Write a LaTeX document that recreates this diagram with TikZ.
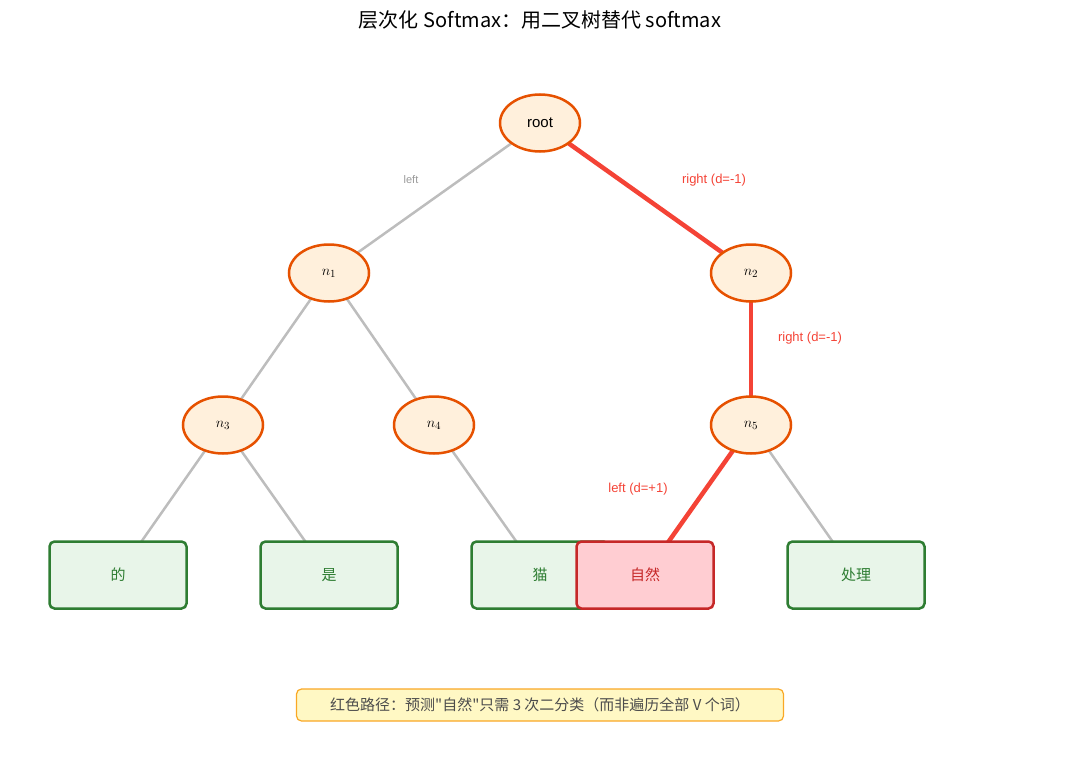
\documentclass[tikz,border=0pt]{standalone}
\usepackage{fontspec}
\setmainfont{Liberation Sans}
\newfontfamily\cjk{Noto Sans CJK SC}
\usetikzlibrary{shapes.geometric}
\definecolor{ofill}{HTML}{FFF0DC}
\definecolor{oline}{HTML}{E65100}
\definecolor{gfill}{HTML}{E8F5E9}
\definecolor{gline}{HTML}{2E7D32}
\definecolor{redp}{HTML}{F44336}
\definecolor{rfill}{HTML}{FFCDD2}
\definecolor{rline}{HTML}{C62828}
\definecolor{gray1}{HTML}{BDBDBD}
\definecolor{nfill}{HTML}{FFF8C4}
\definecolor{nline}{HTML}{F9A825}
\tikzset{
 inner/.style={ellipse,draw=oline,fill=ofill,line width=2.5pt,minimum width=80pt,minimum height=57pt,font=\fontsize{15}{18}\selectfont},
 leaf/.style={rectangle,rounded corners=5pt,draw=gline,fill=gfill,line width=2.5pt,minimum width=137pt,minimum height=67pt,text=gline,font=\cjk\fontsize{15}{18}\selectfont},
 rleaf/.style={leaf,draw=rline,fill=rfill,text=rline},
 gedge/.style={gray1,line width=2.5pt},
 redge/.style={redp,line width=4.5pt},
 lab/.style={font=\fontsize{13}{15}\selectfont}
}
\begin{document}
\begin{tikzpicture}[x=1pt,y=-1pt]
\useasboundingbox (0,0) rectangle (1080,776);
\node[font=\cjk\fontsize{20}{24}\selectfont] (title) at (540,20) {层次化 Softmax：用二叉树替代 softmax};
\coordinate (croot) at (540,123);
\coordinate (cn1) at (329,273);
\coordinate (cn2) at (751,273);
\coordinate (cn3) at (223,425);
\coordinate (cn4) at (434,425);
\coordinate (cn5) at (751,425);
\coordinate (c1) at (118,575);
\coordinate (c2) at (329,575);
\coordinate (c3) at (540,575);
\coordinate (c4) at (645,575);
\coordinate (c5) at (856,575);
\draw[gedge] (croot) -- (cn1);
\draw[gedge] (cn1) -- (cn3);
\draw[gedge] (cn1) -- (cn4);
\draw[gedge] (cn3) -- (c1);
\draw[gedge] (cn3) -- (c2);
\draw[gedge] (cn4) -- (c3);
\draw[gedge] (cn5) -- (c5);
\draw[redge] (croot) -- (cn2);
\draw[redge] (cn2) -- (cn5);
\draw[redge] (cn5) -- (c4);
\node[inner] (root) at (croot) {root};
\node[inner] (n1) at (cn1) {$n_1$};
\node[inner] (n2) at (cn2) {$n_2$};
\node[inner] (n3) at (cn3) {$n_3$};
\node[inner] (n4) at (cn4) {$n_4$};
\node[inner] (n5) at (cn5) {$n_5$};
\node[leaf] (l1) at (c1) {的};
\node[leaf] (l2) at (c2) {是};
\node[leaf] (l3) at (c3) {猫};
\node[rleaf] (l4) at (c4) {自然};
\node[leaf] (l5) at (c5) {处理};
\node[lab,text=gray!80,font=\fontsize{11}{13}\selectfont] (e1) at (411,180) {left};
\node[lab,text=redp] (e2) at (714,180) {right (d=-1)};
\node[lab,text=redp] (e3) at (810,338) {right (d=-1)};
\node[lab,text=redp] (e4) at (638,489) {left (d=+1)};
\node[rectangle,rounded corners=5pt,draw=nline,fill=nfill,line width=1.2pt,minimum width=487pt,minimum height=32pt,text=black!70,font=\cjk\fontsize{15}{18}\selectfont] (note) at (540,705) {红色路径：预测"自然"只需 3 次二分类（而非遍历全部 V 个词）};
\end{tikzpicture}
\end{document}
